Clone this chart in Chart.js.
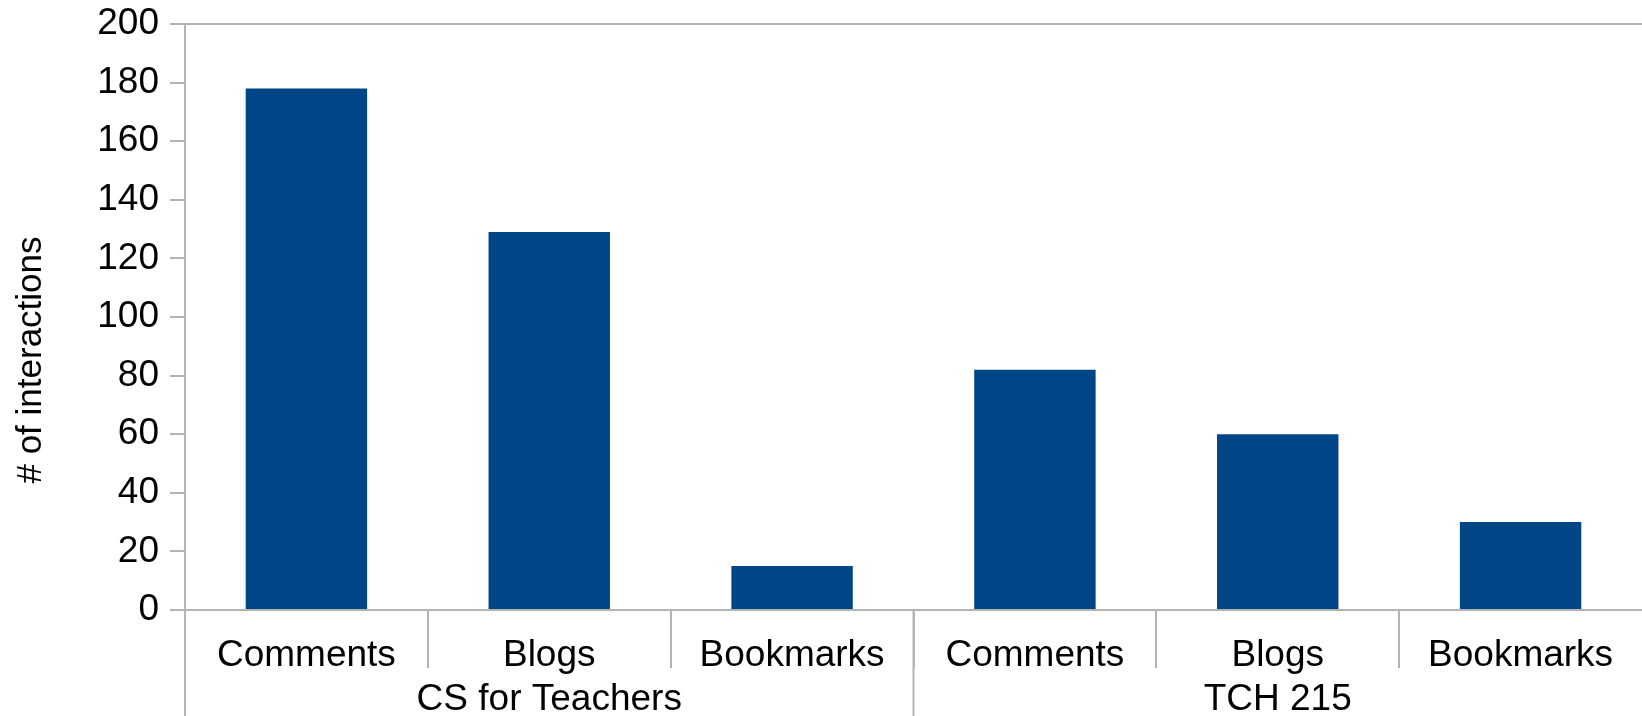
<!DOCTYPE html>
<html>
<head>
<meta charset="utf-8">
<script src="https://cdn.jsdelivr.net/npm/chart.js@4.4.1/dist/chart.umd.min.js"></script>
<style>
	html, body { margin: 0; padding: 0; background: #fff; }
	#ct_wrap { width: 1642px; height: 716px; position: relative; }
</style>
</head>
<body>
<div id="ct_wrap"><canvas id="ct_chart"></canvas></div>
<script>
	// Chart data
	const groups = ['CS for Teachers', 'TCH 215'];
	const kinds = ['Comments', 'Blogs', 'Bookmarks'];
	const interactions = [178, 129, 15, 82, 60, 30];
	const yTicks = [0, 20, 40, 60, 80, 100, 120, 140, 160, 180, 200];
	const yTitle = '# of interactions';

	const axisGray = '#b3b3b3';
	const barBlue = '#004586';
	const fontFamily = '"Liberation Sans", Arial, sans-serif';

	// Two-line labels: group name goes under the middle bar of each group
	let labels = [];
	groups.forEach(function(g){
		kinds.forEach(function(k, i){
			labels.push(i == 1 ? [k, g] : [k, '']);
		});
	});

	// Extra lines: y axis and group separators run down to the bottom, plus the y title
	const framePlugin = {
		id: 'frame',
		afterDraw: function(chart){
			const c = chart.ctx;
			const area = chart.chartArea;
			const xs = chart.scales.x;
			const h = chart.height;
			c.save();
			c.strokeStyle = axisGray;
			c.lineWidth = 2;
			c.beginPath();
			c.moveTo(area.left, area.top);
			c.lineTo(area.left, h);
			for (let g = 1; g < groups.length; g++) {
				let i = g * kinds.length;
				let x = (xs.getPixelForValue(i - 1) + xs.getPixelForValue(i)) / 2;
				c.moveTo(x, area.bottom);
				c.lineTo(x, h);
			}
			c.stroke();

			c.translate(31, 360);
			c.rotate(-Math.PI / 2);
			c.fillStyle = '#000';
			c.font = '35px ' + fontFamily;
			c.textAlign = 'center';
			c.textBaseline = 'middle';
			c.fillText(yTitle, 0, 0);
			c.restore();
		}
	};

	new Chart(document.getElementById('ct_chart'), {
		type: 'bar',
		data: {
			labels: labels,
			datasets: [{
				label: yTitle,
				data: interactions,
				backgroundColor: barBlue,
				borderWidth: 0,
				barPercentage: 0.5,
				categoryPercentage: 1
			}]
		},
		plugins: [framePlugin],
		options: {
			responsive: true,
			maintainAspectRatio: false,
			animation: false,
			layout: { padding: { top: 24, right: 0, left: 0, bottom: 0 } },
			plugins: {
				legend: { display: false },
				tooltip: { enabled: false }
			},
			scales: {
				x: {
					offset: true,
					afterFit: function(scale){ scale.height = 106; },
					border: { display: true, color: axisGray, width: 2 },
					grid: {
						offset: true,
						drawOnChartArea: false,
						color: function(ctx){ return ctx.index < labels.length ? axisGray : 'rgba(0,0,0,0)'; },
						lineWidth: 2,
						tickLength: 58
					},
					ticks: {
						color: '#000',
						padding: -34,
						maxRotation: 0,
						autoSkip: false,
						font: { family: fontFamily, size: 37, lineHeight: 1.19 }
					}
				},
				y: {
					min: 0,
					max: 200,
					afterFit: function(scale){ scale.width = 185; },
					afterBuildTicks: function(scale){
						scale.ticks = yTicks.map(function(v){ return { value: v }; });
					},
					border: { display: true, color: axisGray, width: 2 },
					grid: {
						color: function(ctx){ return ctx.tick && ctx.tick.value === 200 ? axisGray : 'rgba(0,0,0,0)'; },
						tickColor: axisGray,
						lineWidth: 2,
						tickLength: 15
					},
					ticks: {
						color: '#000',
						padding: 11,
						// small line height keeps the top label from pushing the plot down
						font: { family: fontFamily, size: 37, lineHeight: 0.6 }
					}
				}
			}
		}
	});
</script>
</body>
</html>
